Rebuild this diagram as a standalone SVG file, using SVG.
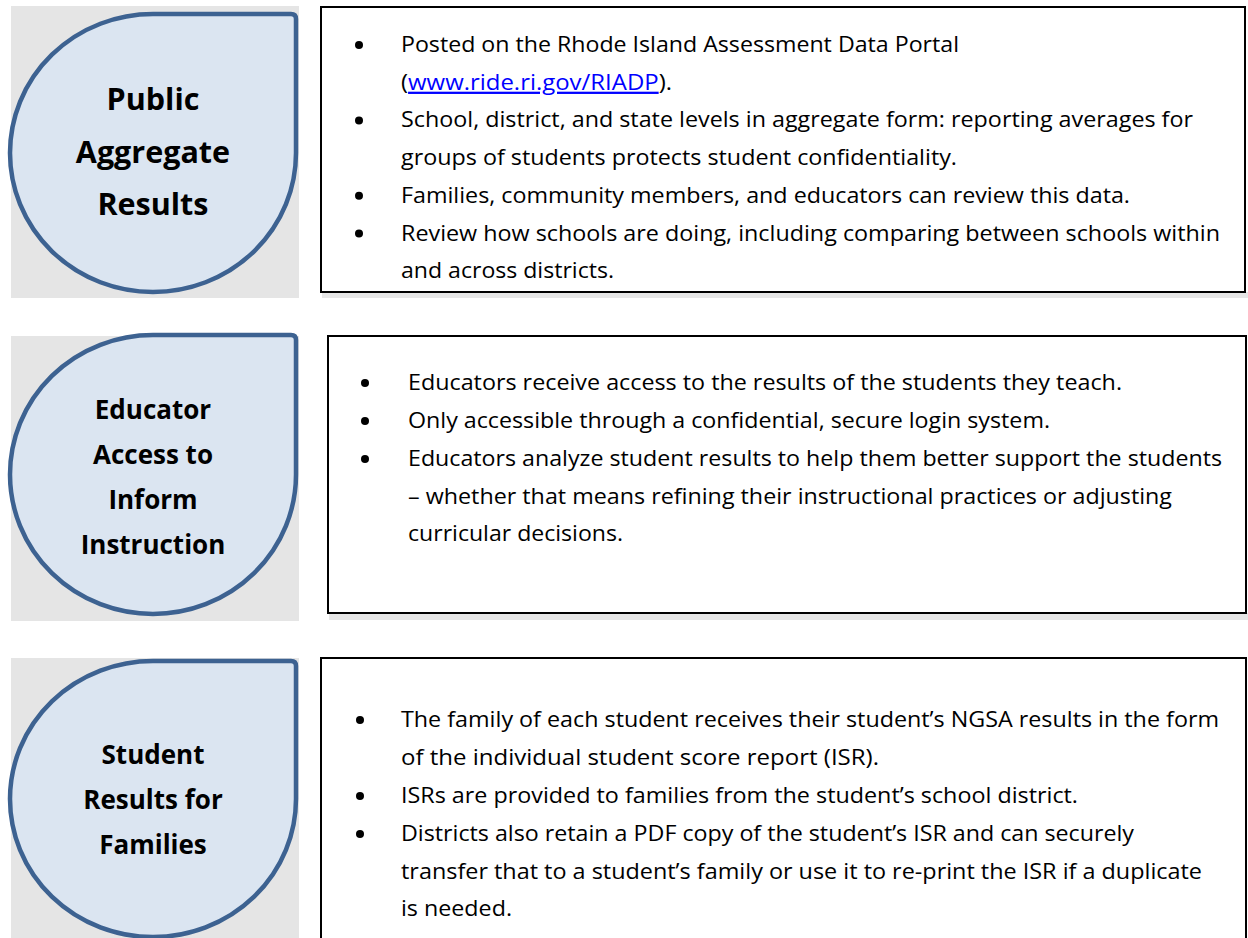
<svg xmlns="http://www.w3.org/2000/svg" width="1248" height="938" viewBox="0 0 1248 938">
<style>
.bg{fill:#ffffff}
.pad{fill:#e5e5e5}
.drop{fill:#dbe5f1;stroke:#3d6291;stroke-width:4.5;stroke-linejoin:round}
.head{font-family:"Open Sans","Liberation Sans",sans-serif;font-weight:bold;fill:#000;text-anchor:middle}
.h1{font-size:30.5px}
.h2{font-size:26px}
.box{fill:#ffffff;stroke:#000;stroke-width:2}
.shadow{fill:#e6e6e6}
.body{font-family:"Open Sans","Liberation Sans",sans-serif;font-size:22.6px;fill:#000}
.link{fill:#0000ff;text-decoration:underline}
.dot{fill:#000}
</style>
<rect class="bg" x="0" y="0" width="1248" height="938"/>

<g id="node-public">
  <rect class="pad" x="11" y="6" width="288" height="292"/>
  <path class="drop" d="M153,14 H291 Q296,14 296,19 V153 A143,139 0 0 1 153,292 A143,139 0 0 1 10,153 A143,139 0 0 1 153,14 Z"/>
  <text class="head h1" x="153" y="110">Public</text>
  <text class="head h1" x="153" y="163">Aggregate</text>
  <text class="head h1" x="153" y="215">Results</text>
</g>

<g id="node-public-details">
  <rect class="shadow" x="322" y="292" width="926" height="6"/>
  <rect class="box" x="321" y="7" width="924" height="285"/>
  <circle class="dot" cx="359" cy="45" r="4"/>
  <circle class="dot" cx="359" cy="120.4" r="4"/>
  <circle class="dot" cx="359" cy="195.8" r="4"/>
  <circle class="dot" cx="359" cy="233.5" r="4"/>
  <text class="body" x="401" y="52" textLength="558" lengthAdjust="spacingAndGlyphs">Posted on the Rhode Island Assessment Data Portal</text>
  <text class="body" x="401" y="89.7" textLength="271" lengthAdjust="spacingAndGlyphs">(<tspan class="link">www.ride.ri.gov/RIADP</tspan>).</text>
  <text class="body" x="401" y="127.4" textLength="792" lengthAdjust="spacingAndGlyphs">School, district, and state levels in aggregate form: reporting averages for</text>
  <text class="body" x="401" y="165.1" textLength="556" lengthAdjust="spacingAndGlyphs">groups of students protects student confidentiality.</text>
  <text class="body" x="401" y="202.8" textLength="729" lengthAdjust="spacingAndGlyphs">Families, community members, and educators can review this data.</text>
  <text class="body" x="401" y="240.5" textLength="819" lengthAdjust="spacingAndGlyphs">Review how schools are doing, including comparing between schools within</text>
  <text class="body" x="401" y="278.2" textLength="213" lengthAdjust="spacingAndGlyphs">and across districts.</text>
</g>

<g id="node-educator">
  <rect class="pad" x="11" y="336" width="288" height="285"/>
  <path class="drop" d="M153,335 H291 Q296,335 296,340 V474.5 A143,139.5 0 0 1 153,614 A143,139.5 0 0 1 10,474.5 A143,139.5 0 0 1 153,335 Z"/>
  <text class="head h2" x="153" y="419">Educator</text>
  <text class="head h2" x="153" y="464">Access to</text>
  <text class="head h2" x="153" y="509">Inform</text>
  <text class="head h2" x="153" y="554">Instruction</text>
</g>

<g id="node-educator-details">
  <rect class="shadow" x="329" y="613" width="919" height="7"/>
  <rect class="box" x="328" y="336" width="918" height="277"/>
  <circle class="dot" cx="365" cy="383" r="4"/>
  <circle class="dot" cx="365" cy="421" r="4"/>
  <circle class="dot" cx="365" cy="459" r="4"/>
  <text class="body" x="408" y="390" textLength="714" lengthAdjust="spacingAndGlyphs">Educators receive access to the results of the students they teach.</text>
  <text class="body" x="408" y="428" textLength="642" lengthAdjust="spacingAndGlyphs">Only accessible through a confidential, secure login system.</text>
  <text class="body" x="408" y="466" textLength="814" lengthAdjust="spacingAndGlyphs">Educators analyze student results to help them better support the students</text>
  <text class="body" x="408" y="504" textLength="764" lengthAdjust="spacingAndGlyphs">– whether that means refining their instructional practices or adjusting</text>
  <text class="body" x="408" y="541" textLength="215" lengthAdjust="spacingAndGlyphs">curricular decisions.</text>
</g>

<g id="node-student">
  <rect class="pad" x="11" y="658" width="288" height="280"/>
  <path class="drop" d="M153,661 H291 Q296,661 296,666 V799 A143,138 0 0 1 153,937 A143,138 0 0 1 10,799 A143,138 0 0 1 153,661 Z"/>
  <text class="head h2" x="153" y="764">Student</text>
  <text class="head h2" x="153" y="809">Results for</text>
  <text class="head h2" x="153" y="854">Families</text>
</g>

<g id="node-student-details">
  <rect class="box" x="321" y="658" width="925" height="300"/>
  <circle class="dot" cx="360" cy="720" r="4"/>
  <circle class="dot" cx="360" cy="796" r="4"/>
  <circle class="dot" cx="360" cy="834" r="4"/>
  <text class="body" x="401" y="727" textLength="818" lengthAdjust="spacingAndGlyphs">The family of each student receives their student’s NGSA results in the form</text>
  <text class="body" x="401" y="765" textLength="478" lengthAdjust="spacingAndGlyphs">of the individual student score report (ISR).</text>
  <text class="body" x="401" y="803" textLength="677" lengthAdjust="spacingAndGlyphs">ISRs are provided to families from the student’s school district.</text>
  <text class="body" x="401" y="841" textLength="733" lengthAdjust="spacingAndGlyphs">Districts also retain a PDF copy of the student’s ISR and can securely</text>
  <text class="body" x="401" y="879" textLength="801" lengthAdjust="spacingAndGlyphs">transfer that to a student’s family or use it to re-print the ISR if a duplicate</text>
  <text class="body" x="401" y="916" textLength="111" lengthAdjust="spacingAndGlyphs">is needed.</text>
</g>

<g id="connectors"/>
</svg>
